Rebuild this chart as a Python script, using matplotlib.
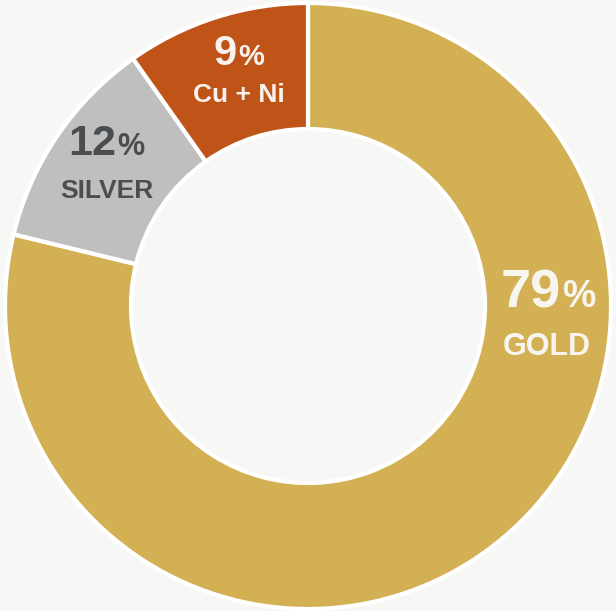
import matplotlib
matplotlib.use("Agg")
import matplotlib.pyplot as plt

# data
metals = ["GOLD", "SILVER", "Cu + Ni"]
shares = [78.8, 11.4, 9.8]          # wedge sizes
share_labels = ["79", "12", "9"]    # rounded labels printed on the chart
colors = ["#d4b054", "#bfbfbf", "#c05418"]
text_colors = ["#f7f5ef", "#4b4e50", "#f7f3ee"]

W, H = 616, 611
BG = "#f7f7f5"

fig = plt.figure(figsize=(W / 100, H / 100), dpi=100, facecolor=BG)
ax = fig.add_axes([0, 0, 1, 1])
ax.set_facecolor(BG)

cx, cy = 308, H - 306
outer = 303
ring = 126

ax.pie(shares, colors=colors, startangle=90, counterclock=False,
       radius=outer, center=(cx, cy), frame=True,
       wedgeprops=dict(width=ring, edgecolor="white", linewidth=3))
ax.set_xlim(0, W)
ax.set_ylim(0, H)
ax.set_aspect("equal")
ax.axis("off")

# label layout in pixel coords: (join x, number baseline, name center x, name baseline, sizes)
layout = [
    (561, 307, 547, 355, 39, 27, 22),
    (116, 155, 107, 198, 31, 22, 19),
    (237, 65, 239, 102, 30, 21, 19),
]

font = "Liberation Sans"
for name, lab, tc, (jx, by, nx, ny, s_num, s_pct, s_name) in zip(metals, share_labels, text_colors, layout):
    ax.text(jx, H - by, lab, ha="right", va="baseline", fontsize=s_num,
            fontweight="bold", color=tc, family=font)
    ax.text(jx + 1, H - by, "%", ha="left", va="baseline", fontsize=s_pct,
            fontweight="bold", color=tc, family=font)
    ax.text(nx, H - ny, name, ha="center", va="baseline", fontsize=s_name,
            fontweight="bold", color=tc, family=font)

fig.savefig("out.png", dpi=100, facecolor=BG)
